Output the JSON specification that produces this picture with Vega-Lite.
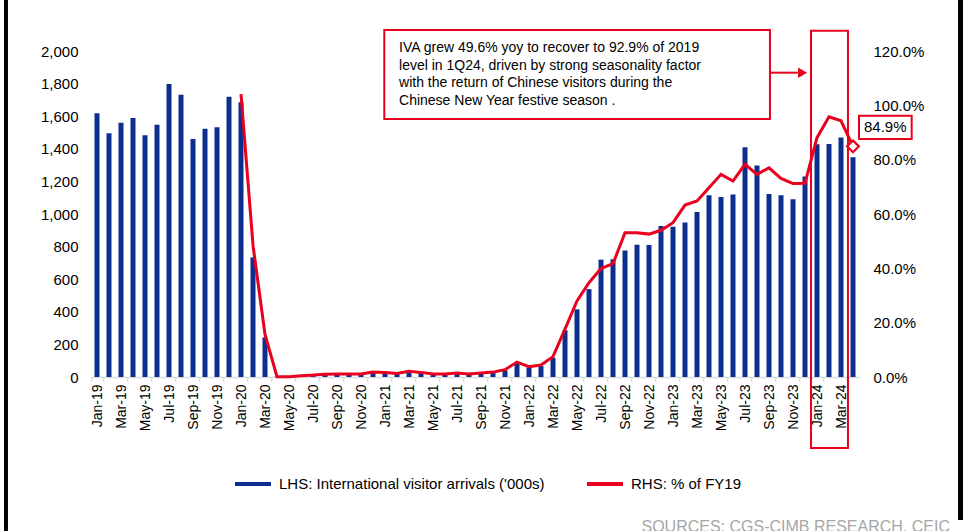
{
  "$schema": "https://vega.github.io/schema/vega-lite/v6.json",
  "width": 768,
  "height": 326,
  "autosize": "none",
  "padding": {"left": 91, "top": 51, "right": 104, "bottom": 154},
  "background": "white",
  "config": {
    "view": {"stroke": null},
    "font": "Liberation Sans",
    "axis": {"labelColor": "#000000", "labelFont": "Liberation Sans", "grid": false, "title": null}
  },
  "datasets": {
    "main": [
      {"m": "Jan-19", "v": 1618, "p": null}, {"m": "Feb-19", "v": 1495, "p": null}, {"m": "Mar-19", "v": 1560, "p": null},
      {"m": "Apr-19", "v": 1589, "p": null}, {"m": "May-19", "v": 1483, "p": null}, {"m": "Jun-19", "v": 1548, "p": null},
      {"m": "Jul-19", "v": 1798, "p": null}, {"m": "Aug-19", "v": 1732, "p": null}, {"m": "Sep-19", "v": 1460, "p": null},
      {"m": "Oct-19", "v": 1523, "p": null}, {"m": "Nov-19", "v": 1532, "p": null}, {"m": "Dec-19", "v": 1720, "p": null},
      {"m": "Jan-20", "v": 1685, "p": 1.041}, {"m": "Feb-20", "v": 734, "p": 0.485}, {"m": "Mar-20", "v": 243, "p": 0.157},
      {"m": "Apr-20", "v": 2, "p": 0.001}, {"m": "May-20", "v": 2, "p": 0.001}, {"m": "Jun-20", "v": 8, "p": 0.005},
      {"m": "Jul-20", "v": 13, "p": 0.007}, {"m": "Aug-20", "v": 17, "p": 0.010}, {"m": "Sep-20", "v": 16, "p": 0.011},
      {"m": "Oct-20", "v": 17, "p": 0.011}, {"m": "Nov-20", "v": 17, "p": 0.011}, {"m": "Dec-20", "v": 32, "p": 0.018},
      {"m": "Jan-21", "v": 28, "p": 0.017}, {"m": "Feb-21", "v": 20, "p": 0.013}, {"m": "Mar-21", "v": 33, "p": 0.021},
      {"m": "Apr-21", "v": 27, "p": 0.017}, {"m": "May-21", "v": 16, "p": 0.011}, {"m": "Jun-21", "v": 17, "p": 0.011},
      {"m": "Jul-21", "v": 27, "p": 0.015}, {"m": "Aug-21", "v": 19, "p": 0.011}, {"m": "Sep-21", "v": 22, "p": 0.015},
      {"m": "Oct-21", "v": 28, "p": 0.018}, {"m": "Nov-21", "v": 41, "p": 0.027}, {"m": "Dec-21", "v": 85, "p": 0.055},
      {"m": "Jan-22", "v": 59, "p": 0.038}, {"m": "Feb-22", "v": 67, "p": 0.044}, {"m": "Mar-22", "v": 118, "p": 0.075},
      {"m": "Apr-22", "v": 287, "p": 0.176}, {"m": "May-22", "v": 415, "p": 0.280}, {"m": "Jun-22", "v": 539, "p": 0.347},
      {"m": "Jul-22", "v": 720, "p": 0.399}, {"m": "Aug-22", "v": 722, "p": 0.417}, {"m": "Sep-22", "v": 776, "p": 0.531},
      {"m": "Oct-22", "v": 812, "p": 0.531}, {"m": "Nov-22", "v": 810, "p": 0.526}, {"m": "Dec-22", "v": 927, "p": 0.540},
      {"m": "Jan-23", "v": 922, "p": 0.568}, {"m": "Feb-23", "v": 948, "p": 0.633}, {"m": "Mar-23", "v": 1012, "p": 0.648},
      {"m": "Apr-23", "v": 1115, "p": 0.697}, {"m": "May-23", "v": 1105, "p": 0.746}, {"m": "Jun-23", "v": 1119, "p": 0.721},
      {"m": "Jul-23", "v": 1410, "p": 0.783}, {"m": "Aug-23", "v": 1297, "p": 0.746}, {"m": "Sep-23", "v": 1122, "p": 0.770},
      {"m": "Oct-23", "v": 1115, "p": 0.731}, {"m": "Nov-23", "v": 1091, "p": 0.712}, {"m": "Dec-23", "v": 1230, "p": 0.713},
      {"m": "Jan-24", "v": 1428, "p": 0.881}, {"m": "Feb-24", "v": 1430, "p": 0.958}, {"m": "Mar-24", "v": 1470, "p": 0.943},
      {"m": "Apr-24", "v": 1348, "p": 0.849}
    ]
  },
  "layer": [
    {
      "data": {"name": "main"},
      "layer": [
        {
          "mark": {"type": "bar", "width": 5},
          "encoding": {
            "x": {
              "field": "m", "type": "ordinal",
              "scale": {"paddingInner": 0, "paddingOuter": 0, "domain": ["Jan-19","Feb-19","Mar-19","Apr-19","May-19","Jun-19","Jul-19","Aug-19","Sep-19","Oct-19","Nov-19","Dec-19","Jan-20","Feb-20","Mar-20","Apr-20","May-20","Jun-20","Jul-20","Aug-20","Sep-20","Oct-20","Nov-20","Dec-20","Jan-21","Feb-21","Mar-21","Apr-21","May-21","Jun-21","Jul-21","Aug-21","Sep-21","Oct-21","Nov-21","Dec-21","Jan-22","Feb-22","Mar-22","Apr-22","May-22","Jun-22","Jul-22","Aug-22","Sep-22","Oct-22","Nov-22","Dec-22","Jan-23","Feb-23","Mar-23","Apr-23","May-23","Jun-23","Jul-23","Aug-23","Sep-23","Oct-23","Nov-23","Dec-23","Jan-24","Feb-24","Mar-24","Apr-24"]},
              "axis": {
                "orient": "bottom",
                "values": ["Jan-19","Mar-19","May-19","Jul-19","Sep-19","Nov-19","Jan-20","Mar-20","May-20","Jul-20","Sep-20","Nov-20","Jan-21","Mar-21","May-21","Jul-21","Sep-21","Nov-21","Jan-22","Mar-22","May-22","Jul-22","Sep-22","Nov-22","Jan-23","Mar-23","May-23","Jul-23","Sep-23","Nov-23","Jan-24","Mar-24"],
                "tickBand": "extent",
                "labelAngle": -90,
                "labelFontSize": 14,
                "labelPadding": 3,
                "tickSize": 4,
                "tickColor": "#d9d9d9",
                "domainColor": "#d9d9d9",
                "domainWidth": 1.5,
                "tickWidth": 1.5
              }
            },
            "y": {
              "field": "v", "type": "quantitative",
              "scale": {"domain": [0, 2000], "nice": false},
              "axis": {"orient": "left", "values": [0,200,400,600,800,1000,1200,1400,1600,1800,2000], "format": ",d", "labelFontSize": 15, "ticks": false, "domain": false, "labelPadding": 13}
            },
            "color": {
              "datum": "LHS: International visitor arrivals ('000s)",
              "scale": {"domain": ["LHS: International visitor arrivals ('000s)", "RHS: % of FY19"], "range": ["#0c2e8f", "#e8001e"]},
              "legend": {
                "orient": "none", "legendX": 142, "legendY": 413, "direction": "horizontal",
                "title": null, "symbolType": "stroke", "symbolSize": 1296, "symbolStrokeWidth": 4,
                "labelFontSize": 15, "labelColor": "#000000", "labelFont": "Liberation Sans", "labelOffset": 6, "columnPadding": 34,
                "labelLimit": 400,
                "encode": {"symbols": {"update": {"stroke": {"scale": "color", "field": "value"}}}}
              }
            }
          }
        },
        {
          "transform": [{"filter": "datum.p != null"}],
          "layer": [
            {
              "mark": {"type": "line", "strokeWidth": 3},
              "encoding": {
                "x": {"field": "m", "type": "ordinal"},
                "y": {
                  "field": "p", "type": "quantitative",
                  "scale": {"domain": [0, 1.2], "nice": false},
                  "axis": {"orient": "right", "values": [0,0.2,0.4,0.6,0.8,1.0,1.2], "format": ".1%", "labelFontSize": 15, "ticks": false, "domain": false, "labelPadding": 14}
                },
                "color": {"datum": "RHS: % of FY19"}
              }
            },
            {
              "transform": [{"filter": "datum.m == 'Apr-24'"}],
              "mark": {"type": "point", "shape": "diamond", "filled": true, "fill": "white", "stroke": "#e8001e", "strokeWidth": 2.2, "size": 140, "opacity": 1},
              "encoding": {
                "x": {"field": "m", "type": "ordinal"},
                "y": {"field": "p", "type": "quantitative"}
              }
            }
          ]
        }
      ],
      "resolve": {"scale": {"y": "independent"}}
    },
    {
      "data": {"values": [{}]},
      "layer": [
        {
          "mark": {"type": "rect", "fill": "white", "stroke": "#e8001e", "strokeWidth": 2},
          "encoding": {
            "x": {"datum": 24.44, "type": "quantitative", "scale": {"domain": [0, 64], "nice": false, "zero": false}, "axis": null},
            "x2": {"datum": 56.58},
            "y": {"datum": 2129, "type": "quantitative", "scale": {"domain": [0, 2000], "nice": false}, "axis": null},
            "y2": {"datum": 1583}
          }
        },
        {
          "mark": {"type": "text", "align": "left", "baseline": "top", "fontSize": 14, "lineHeight": 17.8, "color": "#000000"},
          "encoding": {
            "x": {"datum": 25.67, "type": "quantitative", "axis": null},
            "y": {"datum": 2063, "type": "quantitative", "axis": null},
            "text": {"value": ["IVA grew 49.6% yoy to recover to 92.9% of 2019", "level in 1Q24, driven by strong seasonality factor", "with the return of Chinese visitors during the", "Chinese New Year festive season ."]}
          }
        },
        {
          "mark": {"type": "rule", "stroke": "#e8001e", "strokeWidth": 2},
          "encoding": {
            "x": {"datum": 56.58, "type": "quantitative", "axis": null},
            "x2": {"datum": 58.9},
            "y": {"datum": 1867, "type": "quantitative", "axis": null}
          }
        },
        {
          "mark": {"type": "point", "shape": "triangle-right", "filled": true, "color": "#e8001e", "size": 110, "opacity": 1},
          "encoding": {
            "x": {"datum": 59.3, "type": "quantitative", "axis": null},
            "y": {"datum": 1867, "type": "quantitative", "axis": null}
          }
        },
        {
          "mark": {"type": "rect", "fill": "transparent", "stroke": "#e8001e", "strokeWidth": 2},
          "encoding": {
            "x": {"datum": 60.0, "type": "quantitative", "axis": null},
            "x2": {"datum": 63.08},
            "y": {"datum": 2125, "type": "quantitative", "axis": null},
            "y2": {"datum": -436}
          }
        },
        {
          "mark": {"type": "rect", "fill": "white", "stroke": "#e8001e", "strokeWidth": 2},
          "encoding": {
            "x": {"datum": 64.0, "type": "quantitative", "axis": null},
            "x2": {"datum": 68.39},
            "y": {"datum": 1603, "type": "quantitative", "axis": null},
            "y2": {"datum": 1460}
          }
        },
        {
          "mark": {"type": "text", "align": "center", "baseline": "middle", "fontSize": 15, "color": "#000000"},
          "encoding": {
            "x": {"datum": 66.19, "type": "quantitative", "axis": null},
            "y": {"datum": 1531, "type": "quantitative", "axis": null},
            "text": {"value": "84.9%"}
          }
        },
        {
          "mark": {"type": "text", "align": "right", "baseline": "alphabetic", "fontSize": 16, "color": "#a6a6a6"},
          "encoding": {
            "x": {"datum": 71.58, "type": "quantitative", "axis": null},
            "y": {"datum": -948, "type": "quantitative", "axis": null},
            "text": {"value": "SOURCES: CGS-CIMB RESEARCH, CEIC"}
          }
        },
        {
          "mark": {"type": "rect", "fill": "#000000"},
          "encoding": {
            "x": {"datum": -7.25, "type": "quantitative", "axis": null},
            "x2": {"datum": -6.92},
            "y": {"datum": 2320, "type": "quantitative", "axis": null},
            "y2": {"datum": -950}
          }
        },
        {
          "mark": {"type": "rect", "fill": "#000000"},
          "encoding": {
            "x": {"datum": 72.25, "type": "quantitative", "axis": null},
            "x2": {"datum": 72.67},
            "y": {"datum": 2320, "type": "quantitative", "axis": null},
            "y2": {"datum": -877}
          }
        }
      ]
    }
  ],
  "resolve": {"scale": {"x": "independent", "y": "independent"}}
}
